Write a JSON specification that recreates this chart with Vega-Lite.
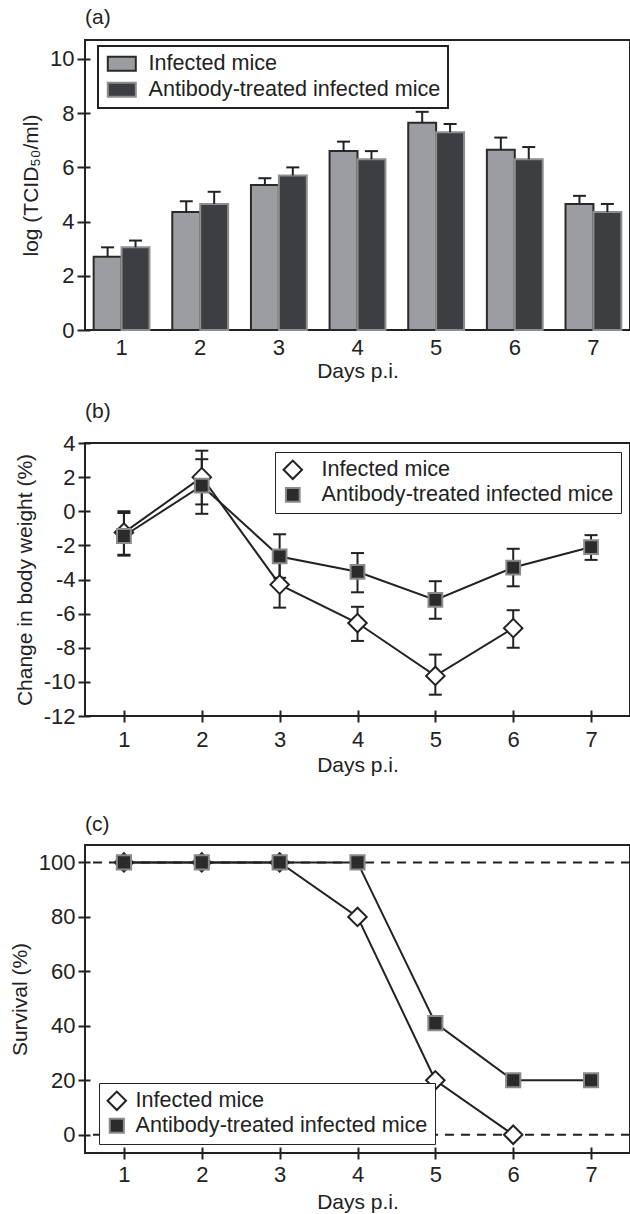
{
  "$schema": "https://vega.github.io/schema/vega-lite/v6.json",
  "background": "white",
  "padding": {"left": 8, "top": 6, "right": 2, "bottom": 2},
  "spacing": 37,
  "datasets": {
    "virus": [
      {"day": 1, "group": "Infected mice", "mean": 2.7, "upper": 3.05},
      {"day": 1, "group": "Antibody-treated infected mice", "mean": 3.05, "upper": 3.3},
      {"day": 2, "group": "Infected mice", "mean": 4.35, "upper": 4.75},
      {"day": 2, "group": "Antibody-treated infected mice", "mean": 4.65, "upper": 5.1},
      {"day": 3, "group": "Infected mice", "mean": 5.35, "upper": 5.6},
      {"day": 3, "group": "Antibody-treated infected mice", "mean": 5.7, "upper": 6.0},
      {"day": 4, "group": "Infected mice", "mean": 6.6, "upper": 6.95},
      {"day": 4, "group": "Antibody-treated infected mice", "mean": 6.3, "upper": 6.6},
      {"day": 5, "group": "Infected mice", "mean": 7.65, "upper": 8.05},
      {"day": 5, "group": "Antibody-treated infected mice", "mean": 7.3, "upper": 7.6},
      {"day": 6, "group": "Infected mice", "mean": 6.65, "upper": 7.1},
      {"day": 6, "group": "Antibody-treated infected mice", "mean": 6.3, "upper": 6.75},
      {"day": 7, "group": "Infected mice", "mean": 4.65, "upper": 4.95},
      {"day": 7, "group": "Antibody-treated infected mice", "mean": 4.35, "upper": 4.65}
    ],
    "weight": [
      {"day": 1, "group": "Infected mice", "mean": -1.25, "lo": -2.55, "hi": 0.0},
      {"day": 2, "group": "Infected mice", "mean": 2.0, "lo": 0.4, "hi": 3.55},
      {"day": 3, "group": "Infected mice", "mean": -4.3, "lo": -5.65, "hi": -2.95},
      {"day": 4, "group": "Infected mice", "mean": -6.55, "lo": -7.6, "hi": -5.6},
      {"day": 5, "group": "Infected mice", "mean": -9.65, "lo": -10.75, "hi": -8.4},
      {"day": 6, "group": "Infected mice", "mean": -6.85, "lo": -8.0, "hi": -5.8},
      {"day": 1, "group": "Antibody-treated infected mice", "mean": -1.45, "lo": -2.6, "hi": -0.1},
      {"day": 2, "group": "Antibody-treated infected mice", "mean": 1.5, "lo": -0.15, "hi": 3.05},
      {"day": 3, "group": "Antibody-treated infected mice", "mean": -2.65, "lo": -3.9, "hi": -1.35},
      {"day": 4, "group": "Antibody-treated infected mice", "mean": -3.55, "lo": -4.75, "hi": -2.45},
      {"day": 5, "group": "Antibody-treated infected mice", "mean": -5.2, "lo": -6.3, "hi": -4.1},
      {"day": 6, "group": "Antibody-treated infected mice", "mean": -3.3, "lo": -4.4, "hi": -2.2},
      {"day": 7, "group": "Antibody-treated infected mice", "mean": -2.1, "lo": -2.85, "hi": -1.4}
    ],
    "survival": [
      {"day": 1, "group": "Infected mice", "pct": 100},
      {"day": 2, "group": "Infected mice", "pct": 100},
      {"day": 3, "group": "Infected mice", "pct": 100},
      {"day": 4, "group": "Infected mice", "pct": 80},
      {"day": 5, "group": "Infected mice", "pct": 20},
      {"day": 6, "group": "Infected mice", "pct": 0},
      {"day": 1, "group": "Antibody-treated infected mice", "pct": 100},
      {"day": 2, "group": "Antibody-treated infected mice", "pct": 100},
      {"day": 3, "group": "Antibody-treated infected mice", "pct": 100},
      {"day": 4, "group": "Antibody-treated infected mice", "pct": 100},
      {"day": 5, "group": "Antibody-treated infected mice", "pct": 41},
      {"day": 6, "group": "Antibody-treated infected mice", "pct": 20},
      {"day": 7, "group": "Antibody-treated infected mice", "pct": 20}
    ],
    "refs": [{"level": 0}, {"level": 100}]
  },
  "vconcat": [
    {
      "spacing": 18,
      "vconcat": [
        {
          "title": {"text": "(a)", "anchor": "start", "frame": "group", "offset": 12},
          "width": 545,
          "height": 290,
          "data": {"name": "virus"},
          "encoding": {
            "x": {"field": "day", "type": "ordinal", "scale": {"paddingInner": 0.29, "paddingOuter": 0.11},
                  "axis": {"title": "Days p.i.", "labelAngle": 0, "ticks": false, "labelPadding": 7, "titlePadding": 2}},
            "xOffset": {"field": "group", "type": "nominal", "scale": {"domain": ["Infected mice", "Antibody-treated infected mice"]}}
          },
          "layer": [
            {
              "mark": {"type": "bar", "strokeWidth": 2},
              "encoding": {
                "y": {"field": "mean", "type": "quantitative", "scale": {"domain": [0, 10.7], "nice": false},
                      "axis": {"title": "log (TCID₅₀/ml)", "values": [0, 2, 4, 6, 8, 10], "offset": -5, "tickSize": 13, "labelPadding": 3, "titlePadding": 8}},
                "fill": {"field": "group", "type": "nominal",
                         "scale": {"domain": ["Infected mice", "Antibody-treated infected mice"], "range": ["#9c9da1", "#3d3e42"]},
                         "legend": {"title": null, "legendX": 13, "legendY": 6, "symbolType": "M-2,-1H2V1H-2Z", "symbolSize": 196, "symbolOffset": 6, "labelOffset": 16, "rowPadding": 3,
                                    "encode": {"legend": {"update": {"strokeWidth": {"value": 2}}}}}},
                "stroke": {"field": "group", "type": "nominal",
                           "scale": {"domain": ["Infected mice", "Antibody-treated infected mice"], "range": ["#2a2a2a", "#8e8e8e"]},
                           "legend": {"title": null, "legendX": 13, "legendY": 6, "symbolType": "M-2,-1H2V1H-2Z", "symbolSize": 196, "symbolOffset": 6, "labelOffset": 16, "rowPadding": 3,
                                      "encode": {"legend": {"update": {"strokeWidth": {"value": 2}}}}}}
              }
            },
            {
              "mark": {"type": "rule", "strokeWidth": 2, "color": "#222"},
              "encoding": {"y": {"field": "mean", "type": "quantitative"}, "y2": {"field": "upper"}}
            },
            {
              "mark": {"type": "point", "shape": "M-1,0H1", "size": 169, "strokeWidth": 2, "color": "#222", "filled": false, "opacity": 1},
              "encoding": {"y": {"field": "upper", "type": "quantitative"}}
            }
          ]
        },
        {
          "title": {"text": "(b)", "anchor": "start", "frame": "group", "offset": 10},
          "width": 545,
          "height": 273,
          "data": {"name": "weight"},
          "encoding": {
            "x": {"field": "day", "type": "quantitative", "scale": {"domain": [0.5, 7.5], "nice": false, "zero": false},
                  "axis": {"title": "Days p.i.", "values": [1, 2, 3, 4, 5, 6, 7], "format": "d", "offset": -6, "tickSize": 12, "labelPadding": 7, "titlePadding": 4}}
          },
          "layer": [
            {
              "mark": {"type": "rule", "strokeWidth": 2, "color": "#222"},
              "encoding": {
                "y": {"field": "lo", "type": "quantitative", "scale": {"domain": [-12, 4], "nice": false},
                      "axis": {"title": "Change in body weight (%)", "values": [-12, -10, -8, -6, -4, -2, 0, 2, 4], "labelOverlap": false, "offset": -5, "tickSize": 12, "labelPadding": 3, "titlePadding": 8,
                               "labelExpr": "datum.value < 0 ? '-' + abs(datum.value) : '' + datum.value"}},
                "y2": {"field": "hi"}
              }
            },
            {
              "mark": {"type": "point", "shape": "M-1,0H1", "size": 169, "strokeWidth": 2, "color": "#222", "filled": false, "opacity": 1},
              "encoding": {"y": {"field": "lo", "type": "quantitative",
                      "axis": {"title": "Change in body weight (%)", "values": [-12, -10, -8, -6, -4, -2, 0, 2, 4], "labelOverlap": false, "offset": -5, "tickSize": 12, "labelPadding": 3, "titlePadding": 8,
                               "labelExpr": "datum.value < 0 ? '-' + abs(datum.value) : '' + datum.value"}}}
            },
            {
              "mark": {"type": "point", "shape": "M-1,0H1", "size": 169, "strokeWidth": 2, "color": "#222", "filled": false, "opacity": 1},
              "encoding": {"y": {"field": "hi", "type": "quantitative",
                      "axis": {"title": "Change in body weight (%)", "values": [-12, -10, -8, -6, -4, -2, 0, 2, 4], "labelOverlap": false, "offset": -5, "tickSize": 12, "labelPadding": 3, "titlePadding": 8,
                               "labelExpr": "datum.value < 0 ? '-' + abs(datum.value) : '' + datum.value"}}}
            },
            {
              "mark": {"type": "line", "strokeWidth": 2, "color": "#222"},
              "encoding": {"y": {"field": "mean", "type": "quantitative",
                      "axis": {"title": "Change in body weight (%)", "values": [-12, -10, -8, -6, -4, -2, 0, 2, 4], "labelOverlap": false, "offset": -5, "tickSize": 12, "labelPadding": 3, "titlePadding": 8,
                               "labelExpr": "datum.value < 0 ? '-' + abs(datum.value) : '' + datum.value"}}, "detail": {"field": "group"}}
            },
            {
              "mark": {"type": "point", "strokeWidth": 2, "opacity": 1, "filled": true},
              "encoding": {
                "y": {"field": "mean", "type": "quantitative",
                      "axis": {"title": "Change in body weight (%)", "values": [-12, -10, -8, -6, -4, -2, 0, 2, 4], "labelOverlap": false, "offset": -5, "tickSize": 12, "labelPadding": 3, "titlePadding": 8,
                               "labelExpr": "datum.value < 0 ? '-' + abs(datum.value) : '' + datum.value"}},
                "shape": {"field": "group", "type": "nominal", "scale": {"domain": ["Infected mice", "Antibody-treated infected mice"], "range": ["diamond", "square"]},
                          "legend": {"title": null, "legendX": 190, "legendY": 9, "labelOffset": 18, "rowPadding": -6, "encode": {"legend": {"update": {"strokeWidth": {"value": 2}}}}}},
                "fill": {"field": "group", "type": "nominal", "scale": {"domain": ["Infected mice", "Antibody-treated infected mice"], "range": ["#ffffff", "#2b2b2b"]},
                         "legend": {"title": null, "legendX": 190, "legendY": 9, "labelOffset": 18, "rowPadding": -6, "encode": {"legend": {"update": {"strokeWidth": {"value": 2}}}}}},
                "stroke": {"field": "group", "type": "nominal", "scale": {"domain": ["Infected mice", "Antibody-treated infected mice"], "range": ["#222222", "#8a8a8a"]},
                           "legend": {"title": null, "legendX": 190, "legendY": 9, "labelOffset": 18, "rowPadding": -6, "encode": {"legend": {"update": {"strokeWidth": {"value": 2}}}}}},
                "size": {"field": "group", "type": "nominal", "scale": {"domain": ["Infected mice", "Antibody-treated infected mice"], "range": [340, 190]},
                         "legend": {"title": null, "legendX": 190, "legendY": 9, "labelOffset": 18, "rowPadding": -6, "encode": {"legend": {"update": {"strokeWidth": {"value": 2}}}}}}
              }
            }
          ]
        }
      ],
      "resolve": {"scale": {"fill": "independent", "stroke": "independent", "shape": "independent", "size": "independent", "x": "independent", "y": "independent"}, "legend": {"fill": "independent", "stroke": "independent", "shape": "independent", "size": "independent"}}
    },
    {
      "title": {"text": "(c)", "anchor": "start", "frame": "group", "offset": 10},
      "width": 545,
      "height": 308,
      "layer": [
        {
          "data": {"name": "refs"},
          "mark": {"type": "rule", "strokeWidth": 2, "color": "#222", "strokeDash": [9, 7]},
          "encoding": {"y": {"field": "level", "type": "quantitative"}}
        },
        {
          "data": {"name": "survival"},
          "mark": {"type": "line", "strokeWidth": 2, "color": "#222"},
          "encoding": {
            "x": {"field": "day", "type": "quantitative"},
            "y": {"field": "pct", "type": "quantitative"},
            "detail": {"field": "group"}
          }
        },
        {
          "data": {"name": "survival"},
          "mark": {"type": "point", "strokeWidth": 2, "opacity": 1, "filled": true},
          "encoding": {
            "x": {"field": "day", "type": "quantitative", "scale": {"domain": [0.5, 7.5], "nice": false, "zero": false},
                  "axis": {"title": "Days p.i.", "values": [1, 2, 3, 4, 5, 6, 7], "format": "d", "offset": -6, "tickSize": 12, "labelPadding": 5, "titlePadding": 6}},
            "y": {"field": "pct", "type": "quantitative", "scale": {"domain": [-6.7, 106.4], "nice": false, "zero": false},
                  "axis": {"title": "Survival (%)", "values": [0, 20, 40, 60, 80, 100], "labelOverlap": false, "offset": -5, "tickSize": 12, "labelPadding": 3, "titlePadding": 8}},
            "shape": {"field": "group", "type": "nominal", "scale": {"domain": ["Infected mice", "Antibody-treated infected mice"], "range": ["diamond", "square"]},
                      "legend": {"title": null, "legendX": 14, "legendY": 238, "labelOffset": 8, "rowPadding": -3, "encode": {"legend": {"update": {"strokeWidth": {"value": 2}}}}}},
            "fill": {"field": "group", "type": "nominal", "scale": {"domain": ["Infected mice", "Antibody-treated infected mice"], "range": ["#ffffff", "#2b2b2b"]},
                     "legend": {"title": null, "legendX": 14, "legendY": 238, "labelOffset": 8, "rowPadding": -3, "encode": {"legend": {"update": {"strokeWidth": {"value": 2}}}}}},
            "stroke": {"field": "group", "type": "nominal", "scale": {"domain": ["Infected mice", "Antibody-treated infected mice"], "range": ["#222222", "#8a8a8a"]},
                       "legend": {"title": null, "legendX": 14, "legendY": 238, "labelOffset": 8, "rowPadding": -3, "encode": {"legend": {"update": {"strokeWidth": {"value": 2}}}}}},
            "size": {"field": "group", "type": "nominal", "scale": {"domain": ["Infected mice", "Antibody-treated infected mice"], "range": [340, 200]},
                     "legend": {"title": null, "legendX": 14, "legendY": 238, "labelOffset": 8, "rowPadding": -3, "encode": {"legend": {"update": {"strokeWidth": {"value": 2}}}}}}
          }
        }
      ]
    }
  ],
  "resolve": {"scale": {"fill": "independent", "stroke": "independent", "shape": "independent", "size": "independent", "x": "independent", "y": "independent"}, "legend": {"fill": "independent", "stroke": "independent", "shape": "independent", "size": "independent"}},
  "config": {
    "font": "Liberation Sans",
    "view": {"stroke": "#222222", "strokeWidth": 2},
    "title": {"font": "Liberation Sans", "fontSize": 21, "fontWeight": "normal", "color": "#222222"},
    "axis": {"labelFont": "Liberation Sans", "labelFontSize": 22, "titleFont": "Liberation Sans", "titleFontSize": 21, "titleFontWeight": "normal",
             "labelColor": "#222222", "titleColor": "#222222", "tickColor": "#222222", "tickWidth": 2, "domain": false, "grid": false},
    "legend": {"orient": "none", "labelFont": "Liberation Sans", "labelFontSize": 21.6, "labelColor": "#222222", "strokeColor": "#222222", "fillColor": "#ffffff", "padding": 7, "symbolStrokeWidth": 2, "labelLimit": 400}
  }
}
